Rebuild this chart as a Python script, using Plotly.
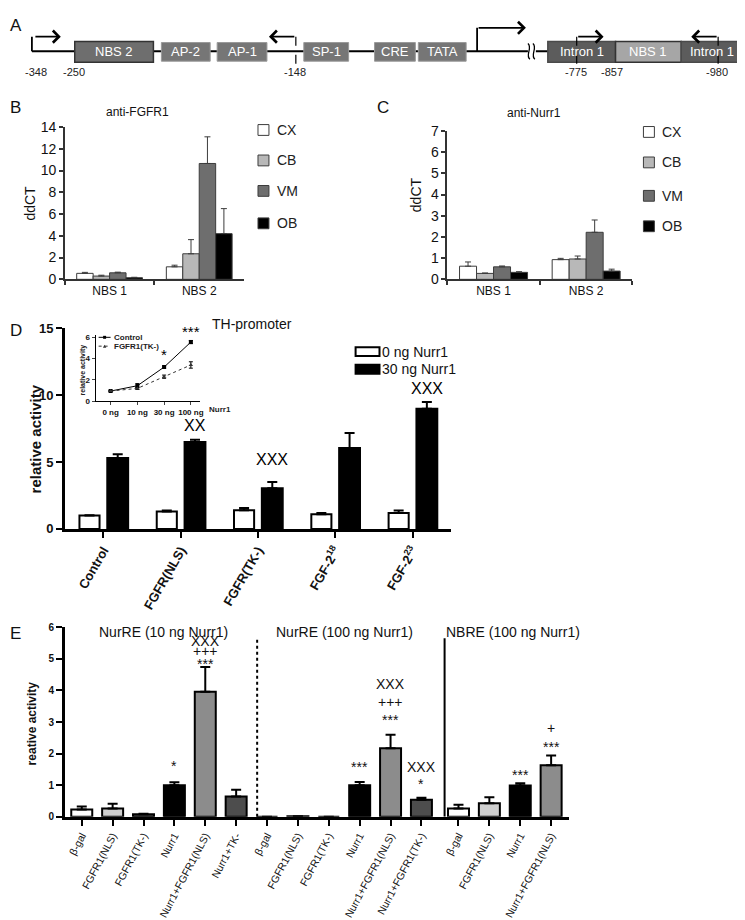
import plotly.graph_objects as go

W, H = 745, 920
FONT = "Liberation Sans, Arial, sans-serif"


def px(x):
    return x / W


def py(y):
    return 1 - y / H


# ---------------- DATA ----------------
# Panel A (promoter diagram)
element_labels = ["NBS 2", "AP-2", "AP-1", "SP-1", "CRE", "TATA", "Intron 1", "NBS 1", "Intron 1"]
position_labels = ["-348", "-250", "-148", "-775", "-857", "-980"]

# Panel B: anti-FGFR1 ChIP
regions = ["NBS 1", "NBS 2"]
tissues = ["CX", "CB", "VM", "OB"]
fgfr1_CX = [0.55, 1.15]
fgfr1_CB = [0.30, 2.35]
fgfr1_VM = [0.60, 10.65]
fgfr1_OB = [0.15, 4.20]
fgfr1_CX_err = [0.09, 0.15]
fgfr1_CB_err = [0.08, 1.30]
fgfr1_VM_err = [0.06, 2.45]
fgfr1_OB_err = [0.04, 2.30]

# Panel C: anti-Nurr1 ChIP
nurr1_CX = [0.62, 0.93]
nurr1_CB = [0.28, 0.96]
nurr1_VM = [0.59, 2.22]
nurr1_OB = [0.33, 0.39]
nurr1_CX_err = [0.20, 0.06]
nurr1_CB_err = [0.02, 0.14]
nurr1_VM_err = [0.04, 0.58]
nurr1_OB_err = [0.03, 0.09]

# Panel D: TH-promoter
th_constructs = ["Control", "FGFR(NLS)", "FGFR(TK-)", "FGF-2<sup>18</sup>", "FGF-2<sup>23</sup>"]
th_series = ["0 ng Nurr1", "30 ng Nurr1"]
th_0ng = [1.00, 1.30, 1.40, 1.10, 1.20]
th_0ng_err = [0.03, 0.07, 0.17, 0.10, 0.17]
th_30ng = [5.30, 6.50, 3.05, 6.05, 9.00]
th_30ng_err = [0.28, 0.18, 0.47, 1.12, 0.50]
th_marks = ["", "XX", "XXX", "", "XXX"]

# Panel D inset
inset_doses = ["0 ng", "10 ng", "30 ng", "100 ng"]
inset_series = ["Control", "FGFR1(TK-)"]
inset_control = [0.95, 1.45, 3.20, 5.55]
inset_control_err = [0.05, 0.20, 0.10, 0.15]
inset_tk = [0.95, 1.20, 2.30, 3.40]
inset_tk_err = [0.05, 0.10, 0.15, 0.30]
inset_marks = ["", "", "*", "***"]

# Panel E
e_groups = ["NurRE (10 ng Nurr1)", "NurRE (100 ng Nurr1)", "NBRE (100 ng Nurr1)"]
e_labels = ["β-gal", "FGFR1(NLS)", "FGFR1(TK-)", "Nurr1", "Nurr1+FGFR1(NLS)", "Nurr1+TK-",
            "β-gal", "FGFR1(NLS)", "FGFR1(TK-)", "Nurr1", "Nurr1+FGFR1(NLS)", "Nurr1+FGFR1(TK-)",
            "β-gal", "FGFR1(NLS)", "Nurr1", "Nurr1+FGFR1(NLS)"]
e_group_of = [0, 0, 0, 0, 0, 0, 1, 1, 1, 1, 1, 1, 2, 2, 2, 2]
e_values = [0.23, 0.26, 0.08, 1.00, 3.96, 0.64,
            0.00, 0.02, 0.00, 1.00, 2.17, 0.54,
            0.26, 0.43, 0.99, 1.63]
e_errors = [0.10, 0.15, 0.02, 0.09, 0.78, 0.22,
            0.00, 0.00, 0.00, 0.10, 0.43, 0.06,
            0.12, 0.19, 0.07, 0.31]
e_marks = [[], [], [], ["*"], ["***", "+++", "XXX"], [],
           [], [], [], ["***"], ["***", "+++", "XXX"], ["*", "XXX"],
           [], [], ["***"], ["***", "+"]]

# ---------------- STYLES ----------------
tissue_colors = {"CX": "#ffffff", "CB": "#b8b8b8", "VM": "#6e6e6e", "OB": "#000000"}
e_color_of = {"β-gal": "#ffffff", "FGFR1(NLS)": "#cfcfcf", "FGFR1(TK-)": "#4d4d4d",
              "Nurr1": "#000000", "Nurr1+FGFR1(NLS)": "#8c8c8c", "Nurr1+TK-": "#4d4d4d",
              "Nurr1+FGFR1(TK-)": "#4d4d4d"}
# visual offsets (px above whisker) for significance marks in E
e_mark_shift = {4: [6, 16, 26], 3: [19], 9: [18], 10: [18, 33, 51], 11: [17, 31], 14: [11], 15: [12, 28]}

fig = go.Figure()
annotations = []
shapes = []

# ---------------- PANEL B & C ----------------
def chip_panel(xa, ya, series, errs):
    width = 0.1835
    for k, t in enumerate(tissues):
        fig.add_trace(go.Bar(
            x=regions, y=series[k], xaxis=xa, yaxis=ya, name=t, showlegend=False,
            width=width, offset=-0.367 + k * width,
            marker=dict(color=tissue_colors[t], line=dict(color="#3c3c3c", width=1)),
            error_y=dict(type="data", array=errs[k], arrayminus=[0] * len(regions), symmetric=False,
                         color="#3c3c3c", thickness=1, width=3),
        ))


chip_panel("x", "y", [fgfr1_CX, fgfr1_CB, fgfr1_VM, fgfr1_OB],
           [fgfr1_CX_err, fgfr1_CB_err, fgfr1_VM_err, fgfr1_OB_err])
chip_panel("x2", "y2", [nurr1_CX, nurr1_CB, nurr1_VM, nurr1_OB],
           [nurr1_CX_err, nurr1_CB_err, nurr1_VM_err, nurr1_OB_err])

# legends B/C
for (sx, tx, rows) in [(251, 268, [116, 147, 178, 211]), (638, 655, [118, 149, 183, 214])]:
    for k, t in enumerate(tissues):
        yc = rows[k]
        shapes.append(dict(type="rect", xref="paper", yref="paper",
                           x0=px(sx), x1=px(sx + 11), y0=py(yc + 5.5), y1=py(yc - 5.5),
                           fillcolor=tissue_colors[t], line=dict(color="#3c3c3c", width=1)))
        annotations.append(dict(text=t, x=px(tx), y=py(yc), xref="paper", yref="paper",
                                xanchor="left", yanchor="middle", showarrow=False,
                                font=dict(size=14, color="#222")))

# ---------------- PANEL D ----------------
xpos_d = list(range(len(th_constructs)))
fig.add_trace(go.Bar(
    x=xpos_d, y=th_0ng, xaxis="x3", yaxis="y3", name=th_series[0], showlegend=False,
    width=0.26, offset=-0.31,
    marker=dict(color="white", line=dict(color="black", width=2)),
    error_y=dict(type="data", array=th_0ng_err, arrayminus=[0] * 5, symmetric=False,
                 color="black", thickness=2, width=5),
))
fig.add_trace(go.Bar(
    x=xpos_d, y=th_30ng, xaxis="x3", yaxis="y3", name=th_series[1], showlegend=False,
    width=0.27, offset=0.05,
    marker=dict(color="black", line=dict(color="black", width=2)),
    error_y=dict(type="data", array=th_30ng_err, arrayminus=[0] * 5, symmetric=False,
                 color="black", thickness=2, width=5),
))
d_shift = [0, 14, 22, 0, 13]
for i, m in enumerate(th_marks):
    if m:
        annotations.append(dict(text=m, x=i + 0.185, y=th_30ng[i] + th_30ng_err[i], xref="x3", yref="y3",
                                yanchor="middle", showarrow=False, yshift=d_shift[i],
                                font=dict(size=16, color="black")))

# legend D
for k, (name, col, yc) in enumerate([(th_series[0], "white", 341.5), (th_series[1], "black", 359.5)]):
    shapes.append(dict(type="rect", xref="paper", yref="paper", x0=px(349), x1=px(373),
                       y0=py(yc + 4.5), y1=py(yc - 4.5), fillcolor=col,
                       line=dict(color="black", width=2)))
    annotations.append(dict(text=name, x=px(374), y=py(yc), xref="paper", yref="paper",
                            xanchor="left", yanchor="middle", showarrow=False,
                            font=dict(size=14, color="#111")))

# ---------------- INSET ----------------
xpos_i = list(range(len(inset_doses)))
fig.add_trace(go.Scatter(
    x=xpos_i, y=inset_control, xaxis="x4", yaxis="y4", mode="lines+markers", showlegend=False,
    name=inset_series[0], line=dict(color="black", width=1),
    marker=dict(symbol="square", size=4, color="black"),
    error_y=dict(type="data", array=inset_control_err, color="black", thickness=1, width=2),
))
fig.add_trace(go.Scatter(
    x=xpos_i, y=inset_tk, xaxis="x4", yaxis="y4", mode="lines+markers", showlegend=False,
    name=inset_series[1], line=dict(color="#333", width=1, dash="dot"),
    marker=dict(symbol="triangle-up", size=4, color="#333"),
    error_y=dict(type="data", array=inset_tk_err, color="black", thickness=1, width=2),
))
i_shift = [0, 0, 12, 9]
for i, m in enumerate(inset_marks):
    if m:
        annotations.append(dict(text=m, x=i, y=max(inset_control[i] + inset_control_err[i], 0),
                                xref="x4", yref="y4", yanchor="middle", showarrow=False,
                                yshift=i_shift[i], font=dict(size=15, color="black")))
# inset legend
shapes.append(dict(type="line", xref="paper", yref="paper", x0=px(91), x1=px(103), y0=py(327), y1=py(327),
                   line=dict(color="black", width=1)))
shapes.append(dict(type="rect", xref="paper", yref="paper", x0=px(95.5), x1=px(98.5), y0=py(328.5), y1=py(325.5),
                   fillcolor="black", line=dict(width=0)))
shapes.append(dict(type="line", xref="paper", yref="paper", x0=px(91), x1=px(103), y0=py(336), y1=py(336),
                   line=dict(color="#333", width=1, dash="dot")))
shapes.append(dict(type="path", xref="paper", yref="paper",
                   path=f"M {px(95.3)} {py(337.5)} L {px(98.7)} {py(337.5)} L {px(97)} {py(334.5)} Z",
                   fillcolor="#333", line=dict(width=0)))
for name, yc in [(inset_series[0], 327), (inset_series[1], 336)]:
    annotations.append(dict(text="<b>" + name + "</b>", x=px(104), y=py(yc), xref="paper", yref="paper",
                            xanchor="left", yanchor="middle", showarrow=False,
                            font=dict(size=8, color="#222")))
annotations.append(dict(text="<b>Nurr1</b>", x=px(200), y=py(400), xref="paper", yref="paper",
                        xanchor="left", yanchor="middle", showarrow=False, font=dict(size=8, color="#222")))
annotations.append(dict(text="<b>relative activity</b>", x=px(75), y=py(360), xref="paper", yref="paper",
                        textangle=-90, xanchor="center", yanchor="middle", showarrow=False,
                        font=dict(size=7, color="#222")))

# ---------------- PANEL E ----------------
xpos_e = [i + (0.2 if e_group_of[i] == 2 else 0) for i in range(len(e_labels))]
fig.add_trace(go.Bar(
    x=xpos_e, y=e_values, xaxis="x5", yaxis="y5", showlegend=False,
    width=0.68, offset=-0.34,
    marker=dict(color=[e_color_of[l] for l in e_labels], line=dict(color="black", width=2)),
    error_y=dict(type="data", array=e_errors, arrayminus=[0] * len(e_values), symmetric=False,
                 color="black", thickness=2, width=5),
))
for i, marks in enumerate(e_marks):
    for k, m in enumerate(marks):
        adj = -3 if "*" in m else 0
        annotations.append(dict(text=m, x=xpos_e[i], y=e_values[i] + e_errors[i], xref="x5", yref="y5",
                                yanchor="middle", showarrow=False, yshift=e_mark_shift[i][k] + adj,
                                font=dict(size=14, color="#111")))
# group separators
sep_top = 5.65
shapes.append(dict(type="line", xref="x5", yref="y5", x0=5.68, x1=5.68, y0=0, y1=sep_top,
                   line=dict(color="black", width=2, dash="dot")))
shapes.append(dict(type="line", xref="x5", yref="y5", x0=11.75, x1=11.75, y0=0, y1=sep_top,
                   line=dict(color="black", width=2)))
for g, xc in zip(e_groups, [156, 338, 507]):
    annotations.append(dict(text=g, x=px(xc), y=py(627), xref="paper", yref="paper",
                            xanchor="center", yanchor="middle", showarrow=False,
                            font=dict(size=14, color="#111")))

# ---------------- PANEL A (diagram) ----------------
box_specs = [  # (x0, x1, big, fill, border)
    (67, 146, True, "#6e6e6e", "#333333"),
    (154, 203, False, "#767676", "#9a9a9a"),
    (210, 260, False, "#767676", "#9a9a9a"),
    (297, 342, False, "#767676", "#9a9a9a"),
    (368, 409, False, "#767676", "#9a9a9a"),
    (412, 460, False, "#767676", "#9a9a9a"),
    (542, 610, True, "#5c5c5c", "#4a4a4a"),
    (610, 676, True, "#a6a6a6", "#333333"),
    (676, 738, True, "#5c5c5c", "#4a4a4a"),
]
shapes.append(dict(type="line", xref="x6", yref="y6", x0=24, x1=522, y0=36, y1=36,
                   line=dict(color="black", width=2)))
shapes.append(dict(type="line", xref="x6", yref="y6", x0=530, x1=745, y0=36, y1=36,
                   line=dict(color="black", width=2)))
for dx in (0, 5):
    shapes.append(dict(type="path", xref="x6", yref="y6",
                       path=f"M {522+dx} 28 C {527+dx} 32, {519+dx} 40, {524+dx} 44",
                       line=dict(color="black", width=1.3)))
for lab, (x0, x1, big, fill, border) in zip(element_labels, box_specs):
    y0, y1 = (26, 47) if big else (27, 46)
    shapes.append(dict(type="rect", xref="x6", yref="y6", x0=x0, x1=x1, y0=y0, y1=y1,
                       fillcolor=fill, line=dict(color=border, width=1.5 if big else 1)))
    annotations.append(dict(text=lab, x=(x0 + x1) / 2, y=(y0 + y1) / 2, xref="x6", yref="y6",
                            showarrow=False, font=dict(size=13, color="white",
                                                       family="Liberation Sans Narrow, Liberation Sans, Arial")))
# bent arrows / primer marks
shapes.append(dict(type="line", xref="x6", yref="y6", x0=24, x1=24, y0=36, y1=21,
                   line=dict(color="black", width=1.8)))
shapes.append(dict(type="line", xref="x6", yref="y6", x0=471, x1=471, y0=36, y1=12,
                   line=dict(color="black", width=1.8)))
for xd in (289, 571, 713):
    shapes.append(dict(type="line", xref="x6", yref="y6", x0=xd, x1=xd, y0=21, y1=56,
                       line=dict(color="black", width=1.2, dash="dash")))
for (tail, tip, yy) in [(26, 53, 21), (289, 262, 21), (471, 520, 12), (571, 598, 21), (713, 686, 21)]:
    annotations.append(dict(text="", x=tip, y=yy, ax=tail, ay=yy, xref="x6", yref="y6",
                            axref="x6", ayref="y6", showarrow=True, arrowhead=4, arrowsize=1.3,
                            arrowwidth=1.8, arrowcolor="black"))
for lab, xl in zip(position_labels, [28, 66, 288, 570, 606, 712]):
    annotations.append(dict(text=lab, x=xl, y=57, xref="x6", yref="y6", showarrow=False,
                            font=dict(size=11, color="#222",
                                      family="Liberation Sans Narrow, Liberation Sans, Arial")))

# ---------------- Panel letters & titles ----------------
for L, x, y in [("A", 8, 10), ("B", 8, 93), ("C", 377, 93), ("D", 8, 320), ("E", 8, 628)]:
    annotations.append(dict(text=L, x=px(x), y=py(y), xref="paper", yref="paper", xanchor="center",
                            yanchor="middle", showarrow=False, font=dict(size=17, color="#111")))
for t, x, y, s in [("anti-FGFR1", 130, 98, 12), ("anti-Nurr1", 528, 99, 12), ("TH-promoter", 245, 313, 14)]:
    annotations.append(dict(text=t, x=px(x), y=py(y), xref="paper", yref="paper", xanchor="center",
                            yanchor="middle", showarrow=False, font=dict(size=s, color="#111")))
for t, x, y, s, b in [("ddCT", 22, 190, 14, False), ("ddCT", 409, 182, 14, False),
                      ("relative activity", 28, 430, 15, True), ("reative activity", 25, 720, 12, True)]:
    annotations.append(dict(text=("<b>%s</b>" % t) if b else t, x=px(x), y=py(y), xref="paper", yref="paper",
                            textangle=-90, xanchor="center", yanchor="middle", showarrow=False,
                            font=dict(size=s, color="#111")))

# ---------------- LAYOUT ----------------
thin = dict(showgrid=False, zeroline=False, showline=True, linecolor="#333", linewidth=1.5,
            ticks="outside", tickcolor="#333", ticklen=4, tickwidth=1.5)
thick = dict(showgrid=False, zeroline=False, showline=True, linecolor="black", linewidth=2.5,
             ticks="outside", tickcolor="black", ticklen=6, tickwidth=2)

fig.update_layout(
    width=W, height=H, margin=dict(l=0, r=0, t=0, b=0),
    paper_bgcolor="white", plot_bgcolor="rgba(0,0,0,0)",
    font=dict(family=FONT, color="#111"),
    barmode="overlay", showlegend=False,
    xaxis=dict(domain=[px(57), px(237)], anchor="y", type="category", range=[-0.5, 1.5],
               tickson="boundaries", tickfont=dict(size=12), **thin),
    yaxis=dict(domain=[py(268), py(113)], anchor="x", range=[0, 14], dtick=2,
               tickfont=dict(size=14), **thin),
    xaxis2=dict(domain=[px(441), px(627)], anchor="y2", type="category", range=[-0.5, 1.5],
                tickson="boundaries", tickfont=dict(size=12), **thin),
    yaxis2=dict(domain=[py(268), py(117)], anchor="x2", range=[0, 7], dtick=1,
                tickfont=dict(size=14), **thin),
    xaxis3=dict(domain=[px(57), px(445)], anchor="y3", range=[-0.5, 4.5], tickvals=xpos_d,
                ticktext=th_constructs, tickangle=-60, tickfont=dict(size=13, weight="bold"), **thick),
    yaxis3=dict(domain=[py(522), py(318)], anchor="x3", range=[0, 15], tickvals=[0, 5, 10, 15],
                tickfont=dict(size=13, weight="bold"), **thick),
    xaxis4=dict(domain=[px(88), px(193)], anchor="y4", range=[-0.56, 3.35], tickvals=xpos_i,
                ticktext=inset_doses, tickfont=dict(size=8, weight="bold"),
                showgrid=False, zeroline=False, showline=True, linecolor="black", linewidth=1.2,
                ticks="outside", ticklen=3, tickwidth=1),
    yaxis4=dict(domain=[py(392), py(324.8)], anchor="x4", range=[0, 6.2], tickvals=[0, 2, 4, 6],
                tickfont=dict(size=8, weight="bold"),
                showgrid=False, zeroline=False, showline=True, linecolor="black", linewidth=1.2,
                ticks="outside", ticklen=3, tickwidth=1),
    xaxis5=dict(domain=[px(57), px(563)], anchor="y5", range=[-0.55, 15.77], tickvals=xpos_e,
                ticktext=e_labels, tickangle=-62, tickfont=dict(size=10.5), **thick),
    yaxis5=dict(domain=[py(815), py(622)], anchor="x5", range=[0, 6], dtick=1,
                tickfont=dict(size=10, weight="bold"), **thick),
    xaxis6=dict(domain=[0, 1], anchor="y6", range=[0, 745], visible=False),
    yaxis6=dict(domain=[py(72), 1], anchor="x6", range=[72, 0], visible=False),
    shapes=shapes, annotations=annotations,
)

fig.write_html("out.html")
